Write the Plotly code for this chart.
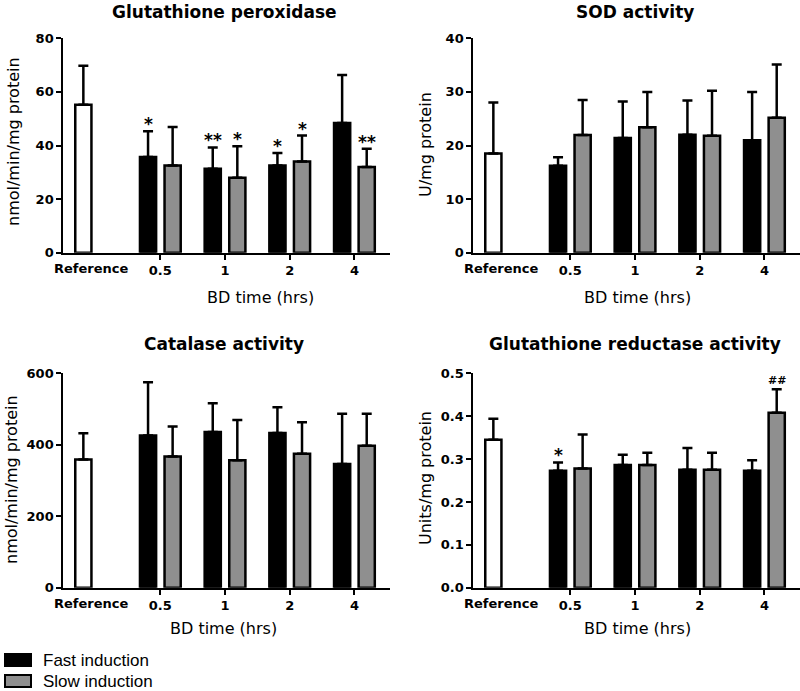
import plotly.graph_objects as go

# ---------------- data ----------------
groups = ["0.5", "1", "2", "4"]
ref_label = "Reference"
series_names = ["Fast induction", "Slow induction"]

panel_titles = ["Glutathione peroxidase", "SOD activity", "Catalase activity", "Glutathione reductase activity"]
y_titles = ["nmol/min/mg protein", "U/mg protein", "nmol/min/mg protein", "Units/mg protein"]
x_title = "BD time (hrs)"

# Glutathione peroxidase
gpx_ref = 55.2
gpx_ref_err = 14.6
gpx_fast = [35.7, 31.3, 32.5, 48.4]
gpx_fast_err = [9.6, 8.0, 4.7, 17.9]
gpx_slow = [32.5, 28.0, 34.0, 32.0]
gpx_slow_err = [14.4, 11.7, 9.7, 6.8]
gpx_fast_sig = ["*", "**", "*", ""]
gpx_slow_sig = ["", "*", "*", "**"]

# SOD activity
sod_ref = 18.5
sod_ref_err = 9.5
sod_fast = [16.2, 21.4, 22.0, 21.0]
sod_fast_err = [1.6, 6.8, 6.4, 9.0]
sod_slow = [21.95, 23.4, 21.8, 25.2]
sod_slow_err = [6.55, 6.6, 8.4, 9.9]
sod_fast_sig = ["", "", "", ""]
sod_slow_sig = ["", "", "", ""]

# Catalase activity
cat_ref = 359
cat_ref_err = 73
cat_fast = [426, 436, 433, 346]
cat_fast_err = [149, 80, 72, 141]
cat_slow = [367, 357, 375, 397]
cat_slow_err = [84, 112, 88, 90]
cat_fast_sig = ["", "", "", ""]
cat_slow_sig = ["", "", "", ""]

# Glutathione reductase activity
gr_ref = 0.345
gr_ref_err = 0.049
gr_fast = [0.273, 0.286, 0.275, 0.273]
gr_fast_err = [0.019, 0.024, 0.051, 0.024]
gr_slow = [0.278, 0.286, 0.275, 0.408]
gr_slow_err = [0.079, 0.029, 0.040, 0.055]
gr_fast_sig = ["*", "", "", ""]
gr_slow_sig = ["", "", "", "##"]

y_ranges = [[0, 80], [0, 40], [0, 600], [0, 0.5]]
y_dticks = [20, 10, 200, 0.1]
y_formats = ["", "", "", ".1f"]

panels = [
    (gpx_ref, gpx_ref_err, gpx_fast, gpx_fast_err, gpx_slow, gpx_slow_err, gpx_fast_sig, gpx_slow_sig),
    (sod_ref, sod_ref_err, sod_fast, sod_fast_err, sod_slow, sod_slow_err, sod_fast_sig, sod_slow_sig),
    (cat_ref, cat_ref_err, cat_fast, cat_fast_err, cat_slow, cat_slow_err, cat_fast_sig, cat_slow_sig),
    (gr_ref, gr_ref_err, gr_fast, gr_fast_err, gr_slow, gr_slow_err, gr_fast_sig, gr_slow_sig),
]

# ---------------- layout constants ----------------
W, H = 800, 691
FAST_COLOR = "black"
SLOW_COLOR = "#8f8f8f"
REF_COLOR = "white"
BAR_W = 0.25
OFF = 0.19
REF_X = -1.19
X_RANGE = [-1.5, 3.55]

def px_x(p):
    return p / W

def px_y(p):
    return 1 - p / H

# plot-area pixel boxes: (left, right, top, bottom)
boxes = [(63.3, 390, 38.3, 252.7), (473.3, 800, 38.3, 252.7),
         (63.3, 390, 373.3, 587.7), (473.3, 800, 373.3, 587.7)]
title_pos = [(224, 12), (635, 12), (224, 344), (635, 344)]
xtitle_pos = [(260, 297), (637, 297), (223, 628), (637, 628)]
ytitle_pos = [(14, 142), (425, 145), (11, 480), (425, 478)]

BOLD = dict(family="DejaVu Sans", size=13, color="black", weight="bold")

fig = go.Figure()
annotations = []
gx = list(range(len(groups)))

for i, (ref, ref_err, fast, fast_err, slow, slow_err, fsig, ssig) in enumerate(panels):
    k = "" if i == 0 else str(i + 1)
    xa, ya = "x" + k, "y" + k
    n = len(groups)
    fx = [g - OFF for g in gx]
    sx = [g + OFF for g in gx]
    fig.add_trace(go.Bar(x=[REF_X], y=[ref], width=BAR_W, xaxis=xa, yaxis=ya,
                         marker=dict(color=REF_COLOR, line=dict(color="black", width=2.5)),
                         error_y=dict(type="data", array=[ref_err], arrayminus=[0], symmetric=False,
                                      color="black", thickness=2.5, width=5),
                         showlegend=False, name="Reference"))
    fig.add_trace(go.Bar(x=fx, y=fast, width=BAR_W, xaxis=xa, yaxis=ya,
                         marker=dict(color=FAST_COLOR, line=dict(color="black", width=2.5)),
                         error_y=dict(type="data", array=fast_err, arrayminus=[0] * n, symmetric=False,
                                      color="black", thickness=2.5, width=5),
                         showlegend=False, name=series_names[0]))
    fig.add_trace(go.Bar(x=sx, y=slow, width=BAR_W, xaxis=xa, yaxis=ya,
                         marker=dict(color=SLOW_COLOR, line=dict(color="black", width=2.5)),
                         error_y=dict(type="data", array=slow_err, arrayminus=[0] * n, symmetric=False,
                                      color="black", thickness=2.5, width=5),
                         showlegend=False, name=series_names[1]))

    l, r, t, b = boxes[i]
    fig.update_layout(**{
        "xaxis" + k: dict(domain=[px_x(l), px_x(r)], range=X_RANGE, anchor=ya, automargin=False,
                          tickvals=gx, ticktext=groups, ticks="outside", ticklen=5, tickwidth=2,
                          tickcolor="black", showline=True, linewidth=2, linecolor="black",
                          showgrid=False, zeroline=False, tickfont=BOLD, fixedrange=True),
        "yaxis" + k: dict(domain=[px_y(b), px_y(t)], range=y_ranges[i], anchor=xa, automargin=False,
                          dtick=y_dticks[i], tick0=0, tickformat=y_formats[i], ticks="outside",
                          ticklen=5, tickwidth=2, tickcolor="black", showline=True, linewidth=2,
                          linecolor="black", showgrid=False, zeroline=False, tickfont=BOLD,
                          fixedrange=True),
    })

    # Reference tick label
    annotations.append(dict(x=REF_X + 0.12, y=0, xref=xa, yref=ya, text=ref_label, showarrow=False,
                            yanchor="middle", yshift=-16, font=BOLD))
    # significance marks
    for j in range(n):
        for xs, vals, errs, sig in ((fx, fast, fast_err, fsig), (sx, slow, slow_err, ssig)):
            if sig[j]:
                hash_ = "#" in sig[j]
                annotations.append(dict(x=xs[j], y=vals[j] + errs[j], xref=xa, yref=ya, text=sig[j],
                                        showarrow=False, yanchor="bottom", yshift=-5 if not hash_ else 0,
                                        font=dict(family="DejaVu Sans", size=17 if not hash_ else 11,
                                                  color="black", weight="bold")))
    # titles
    tx, ty = title_pos[i]
    annotations.append(dict(x=px_x(tx), y=px_y(ty), xref="paper", yref="paper", text=panel_titles[i],
                            showarrow=False, xanchor="center", yanchor="middle",
                            font=dict(family="DejaVu Sans", size=17, color="black", weight="bold")))
    bx, by = xtitle_pos[i]
    annotations.append(dict(x=px_x(bx), y=px_y(by), xref="paper", yref="paper", text=x_title,
                            showarrow=False, xanchor="center", yanchor="middle",
                            font=dict(family="DejaVu Sans", size=16, color="black")))
    yx, yy = ytitle_pos[i]
    annotations.append(dict(x=px_x(yx), y=px_y(yy), xref="paper", yref="paper", text=y_titles[i],
                            showarrow=False, xanchor="center", yanchor="middle", textangle=-90,
                            font=dict(family="DejaVu Sans", size=16, color="black")))

# legend (drawn manually)
shapes = []
legend_rows = [(series_names[0], FAST_COLOR, 654, 666, 660), (series_names[1], SLOW_COLOR, 675, 687, 681)]
for name, col, y0, y1, yc in legend_rows:
    shapes.append(dict(type="rect", xref="paper", yref="paper", x0=px_x(5), x1=px_x(31),
                       y0=px_y(y1), y1=px_y(y0), fillcolor=col, line=dict(color="black", width=2)))
    annotations.append(dict(x=px_x(41), y=px_y(yc), xref="paper", yref="paper", text=name,
                            showarrow=False, xanchor="left", yanchor="middle",
                            font=dict(family="Liberation Sans", size=17, color="black")))

fig.update_layout(width=W, height=H, margin=dict(l=0, r=0, t=0, b=0),
                  paper_bgcolor="white", plot_bgcolor="white", barmode="overlay",
                  annotations=annotations, shapes=shapes, showlegend=False)

fig.write_html("out.html", config={"displayModeBar": False},
               post_script="document.body.style.margin='0';document.body.style.overflow='hidden';")
